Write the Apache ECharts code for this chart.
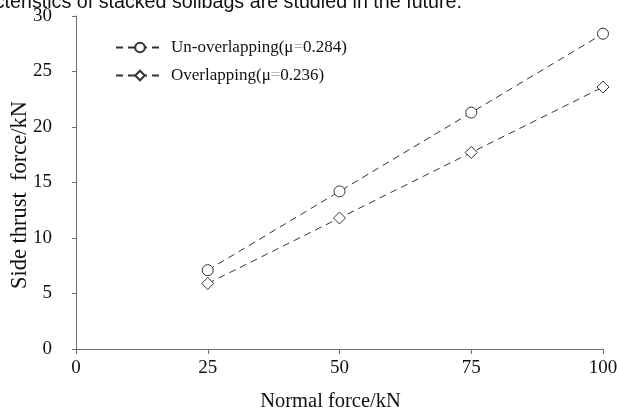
<!DOCTYPE html>
<html>
<head>
<meta charset="utf-8">
<script src="https://cdn.jsdelivr.net/npm/echarts@6/dist/echarts.min.js"></script>
<style>
  html, body { margin: 0; padding: 0; background: #fff; }
  #chart { width: 617px; height: 411px; }
</style>
</head>
<body>
<div id="chart"></div>
<script>
// Normal force (kN) applied in each test
const normalForce = [25, 50, 75, 100];
// Side thrust force (kN) measured for each arrangement
const unOverlapping = [7.1, 14.2, 21.3, 28.4];
const overlapping = [5.9, 11.8, 17.7, 23.6];
const seriesNames = ['Un-overlapping(μ=0.284)', 'Overlapping(μ=0.236)'];
const xTicks = [0, 25, 50, 75, 100];
const yTicks = [0, 5, 10, 15, 20, 25, 30];

const serif = '"Liberation Serif", "Times New Roman", serif';
const axisGray = '#6e6e6e';
const markColor = '#333';

function pairs(xs, ys) {
  return xs.map((x, i) => [x, ys[i]]);
}

const chart = echarts.init(document.getElementById('chart'), null, { renderer: 'canvas' });

const lineSeries = (name, values, symbol) => ({
  name: name,
  type: 'line',
  data: pairs(normalForce, values),
  symbol: symbol,
  symbolSize: symbol === 'diamond' ? 12 : 11,
  showAllSymbol: true,
  lineStyle: { color: markColor, width: 1, type: [7, 5] },
  itemStyle: { color: '#fff', borderColor: markColor, borderWidth: 1 },
  emphasis: { disabled: true },
  animation: false,
  z: 3
});

chart.setOption({
  backgroundColor: '#fff',
  animation: false,
  grid: { left: 76, right: 14, top: 16, bottom: 62, containLabel: false, outerBoundsMode: 'none' },
  legend: {
    left: 115,
    top: 39,
    padding: 0,
    orient: 'vertical',
    itemWidth: 48,
    itemHeight: 12,
    itemGap: 11,
    data: seriesNames,
    textStyle: {
      fontFamily: serif,
      fontSize: 17,
      color: '#111',
      padding: [0, 0, 0, 2],
      rich: {
        eq: { fontFamily: serif, fontSize: 17, color: '#aaa' }
      }
    },
    formatter: function (name) {
      return name.replace('=', '{eq|=}');
    }
  },
  xAxis: {
    type: 'value',
    min: xTicks[0],
    max: xTicks[xTicks.length - 1],
    interval: 25,
    name: 'Normal force/kN',
    nameLocation: 'middle',
    nameGap: 42,
    nameMoveOverlap: false,
    nameTextStyle: { fontFamily: serif, fontSize: 20.5, color: '#111', padding: [0, 18, 0, 0] },
    axisLine: { show: true, lineStyle: { color: axisGray, width: 1 } },
    axisTick: { show: true, inside: false, length: 5, lineStyle: { color: axisGray } },
    axisLabel: { fontFamily: serif, fontSize: 19, color: '#111', margin: 10 },
    splitLine: { show: false }
  },
  yAxis: {
    type: 'value',
    min: yTicks[0],
    max: yTicks[yTicks.length - 1],
    interval: 5,
    name: 'Side thrust  force/kN',
    nameLocation: 'middle',
    nameGap: 44,
    nameMoveOverlap: false,
    nameTextStyle: { fontFamily: serif, fontSize: 22.5, color: '#111', padding: [0, 25, 0, 0] },
    axisLine: { show: true, lineStyle: { color: axisGray, width: 1 } },
    axisTick: { show: true, inside: false, length: 4, lineStyle: { color: axisGray } },
    axisLabel: { fontFamily: serif, fontSize: 19, color: '#111', margin: 24 },
    splitLine: { show: false }
  },
  series: [
    lineSeries(seriesNames[0], unOverlapping, 'circle'),
    lineSeries(seriesNames[1], overlapping, 'diamond')
  ],
  graphic: [
    {
      type: 'text',
      x: 462,
      y: 13,
      silent: true,
      style: {
        text: 'characteristics of stacked soilbags are studied in the future.',
        fontFamily: '"Liberation Sans", Arial, sans-serif',
        fontSize: 19.7,
        fill: '#111',
        align: 'right',
        verticalAlign: 'bottom'
      }
    }
  ]
});
</script>
</body>
</html>
